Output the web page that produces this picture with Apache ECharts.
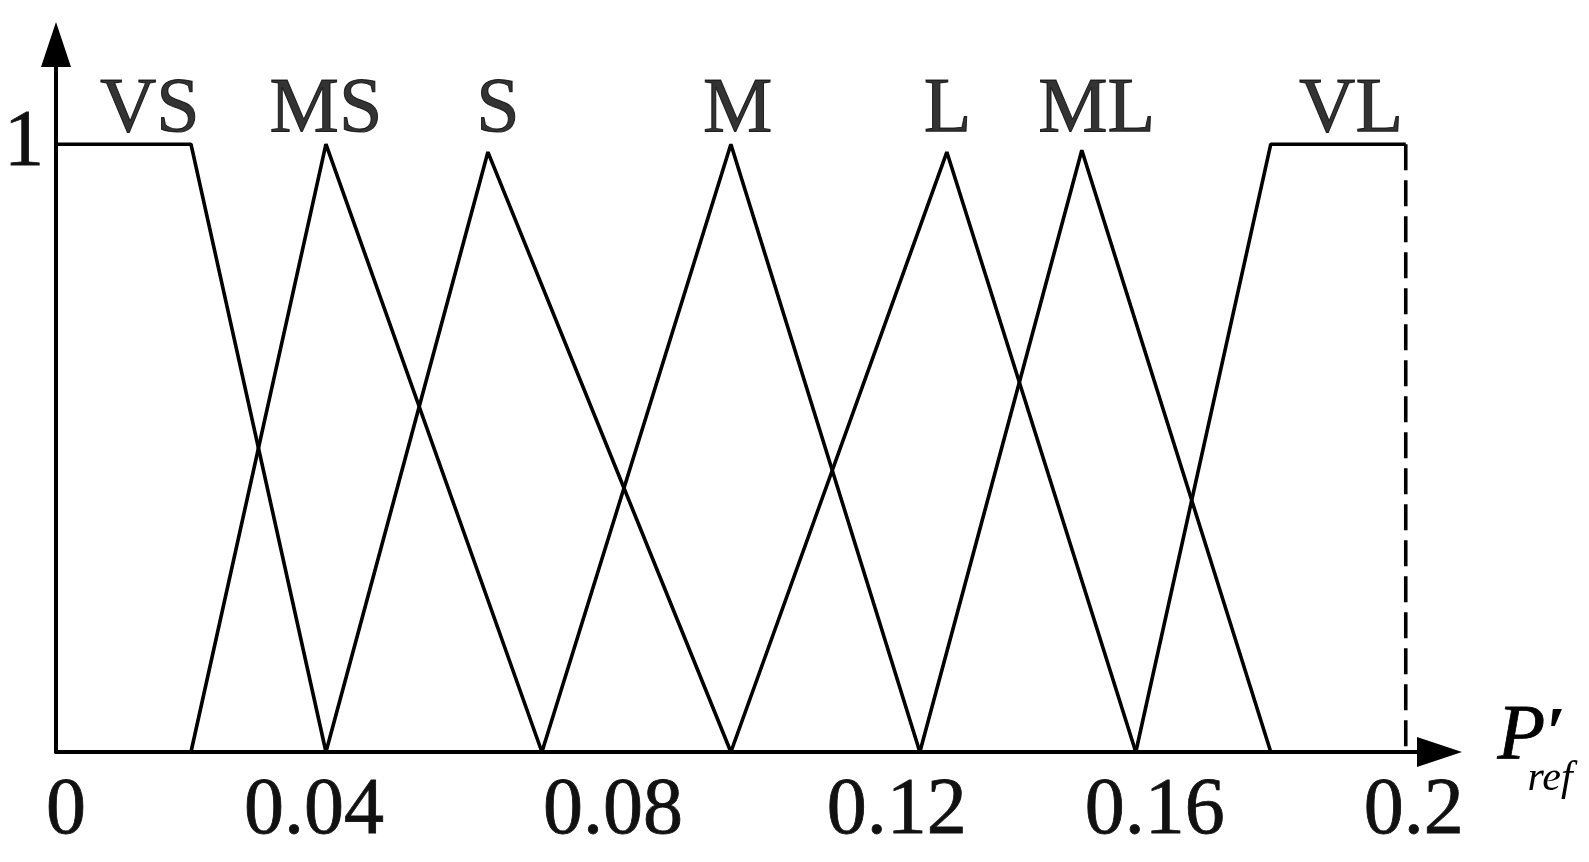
<!DOCTYPE html>
<html><head><meta charset="utf-8">
<script src="https://cdn.jsdelivr.net/npm/echarts@6/dist/echarts.min.js"></script>
<style>html,body{margin:0;padding:0;background:#fff}#c{width:1589px;height:862px}</style>
</head><body><div id="c"></div>
<script>
// ---- data ----
const xTickLabels = ['0', '0.04', '0.08', '0.12', '0.16', '0.2'];
const yTickLabel = '1';
const setNames = ['VS', 'MS', 'S', 'M', 'L', 'ML', 'VL'];
const VS = [[0, 1], [0.02, 1], [0.04, 0]];
const MS = [[0.02, 0], [0.04, 1], [0.072, 0]];
const S  = [[0.04, 0], [0.064, 0.987], [0.1, 0]];
const M  = [[0.072, 0], [0.1, 1], [0.128, 0]];
const L  = [[0.1, 0], [0.132, 0.987], [0.16, 0]];
const ML = [[0.128, 0], [0.152, 0.99], [0.18, 0]];
const VL = [[0.16, 0], [0.18, 1], [0.2, 1]];
const VLdash = [[0.2, 1], [0.2, 0]];
const labelX = [0.0139, 0.040, 0.0655, 0.101, 0.1321, 0.1542, 0.1919];
const labelY = 1.056;

// ---- styling ----
const FONT = 'Liberation Serif';
const tickShift = [10, -12, 17, 31, 19, 8];
const rich = {};
tickShift.forEach((d, i) => {
  rich['t' + i] = {
    fontFamily: FONT, fontSize: 80, color: '#111',
    textBorderColor: '#111', textBorderWidth: 0.8,
    padding: d >= 0 ? [0, 0, 0, 2 * d] : [0, -2 * d, 0, 0]
  };
});

const chart = echarts.init(document.getElementById('c'));
const lineSeries = (data, dashed) => ({
  type: 'line', data: data, showSymbol: false, symbol: 'none',
  lineStyle: { color: '#000', width: 3.6, type: dashed ? [26, 10] : 'solid' },
  animation: false, z: 3
});

chart.setOption({
  backgroundColor: '#fff',
  animation: false,
  grid: { left: 56, right: 149.5, top: 44.5, bottom: 110 },
  xAxis: {
    type: 'value', min: 0, max: 0.205, interval: 0.04,
    splitLine: { show: false }, axisTick: { show: false },
    axisLine: { lineStyle: { color: '#000', width: 4 }, symbol: ['none', 'triangle'], symbolSize: [30, 45] },
    axisLabel: {
      margin: 20,
      formatter: v => {
        const i = Math.round(v / 0.04);
        if (Math.abs(v - i * 0.04) > 1e-6 || i >= xTickLabels.length) return '';
        return '{t' + i + '|' + xTickLabels[i] + '}';
      },
      rich: rich
    },
    name: '{p|P}{pr|′}\n{s|ref}',
    nameLocation: 'end', nameGap: 58,
    nameTextStyle: {
      rich: {
        p: { fontFamily: FONT, fontStyle: 'italic', fontSize: 78, color: '#000', lineHeight: 54, textBorderColor: '#000', textBorderWidth: 0.8 },
        pr: { fontFamily: FONT, fontStyle: 'italic', fontWeight: 'bold', fontSize: 72, color: '#000', lineHeight: 54 },
        s: { fontFamily: FONT, fontStyle: 'italic', fontSize: 42, color: '#000', lineHeight: 30, padding: [0, 0, 0, 30] }
      }
    }
  },
  yAxis: {
    type: 'value', min: 0, max: 1.164, interval: 1,
    splitLine: { show: false }, axisTick: { show: false },
    axisLine: { lineStyle: { color: '#000', width: 4 }, symbol: ['none', 'triangle'], symbolSize: [30, 45] },
    axisLabel: {
      margin: 12, fontFamily: FONT, fontSize: 80, color: '#111',
      textBorderColor: '#111', textBorderWidth: 0.8,
      padding: [16, 0, 0, 0],
      formatter: v => (Math.abs(v - 1) < 1e-6 ? yTickLabel : '')
    }
  },
  series: [
    lineSeries(VS), lineSeries(MS), lineSeries(S), lineSeries(M),
    lineSeries(L), lineSeries(ML), lineSeries(VL), lineSeries(VLdash, true),
    {
      type: 'scatter', symbolSize: 0, animation: false, silent: true,
      data: setNames.map((n, i) => ({ name: n, value: [labelX[i], labelY] })),
      label: { show: true, position: 'inside', formatter: '{b}', fontFamily: FONT, fontSize: 78, color: '#000',
               textBorderColor: '#000', textBorderWidth: 1 }
    }
  ]
});
</script></body></html>
